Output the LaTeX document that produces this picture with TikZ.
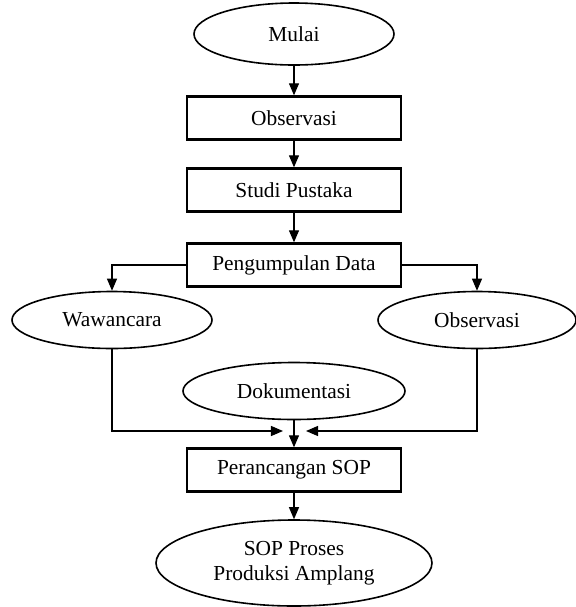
\documentclass[tikz,border=0pt]{standalone}
\usepackage{fontspec}
\setmainfont{Liberation Serif}
\usetikzlibrary{shapes.geometric,arrows.meta}
\tikzstyle{node:terminal}=[ellipse,draw,line width=0.8pt,inner sep=0pt]
\tikzstyle{node:source}=[ellipse,draw,line width=0.8pt,inner sep=0pt,minimum height=28.5pt]
\tikzstyle{node:process}=[rectangle,draw,line width=1.2pt,inner sep=0pt,minimum width=107pt,minimum height=21.5pt]
\tikzstyle{draw:flow}=[-{Triangle[length=6pt,width=5pt]},line width=0.6pt]

\begin{document}
\begin{tikzpicture}[x=0.5pt,y=-0.5pt,font=\fontsize{10.7}{12.6}\selectfont]
        \useasboundingbox (0,0) rectangle (575,607);

        % Main steps
        \node[node:terminal,minimum width=100pt,minimum height=31pt] (Mulai) at (294,34) {Mulai};
        \node[node:process] (Observasi) at (294,118) {Observasi};
        \node[node:process] (Studi) at (294,190) {Studi Pustaka};
        \node[node:process] (Pengumpulan) at (294,265) {Pengumpulan Data};

        % Data sources
        \node[node:source,minimum width=100pt] (Wawancara) at (112,320) {Wawancara};
        \node[node:source,minimum width=99pt] (ObservasiData) at (477,320) {Observasi};
        \node[node:source,minimum width=111pt] (Dokumentasi) at (294,391) {Dokumentasi};

        % Design and result
        \node[node:process] (Perancangan) at (294,470) {Perancangan SOP};
        \node[node:terminal,minimum width=138pt,minimum height=43pt,align=center] (SOP) at (294,563) {SOP Proses\\Produksi Amplang};

        % Join points
        \coordinate (JoinL) at (283,431);
        \coordinate (JoinR) at (306,431);

        % draw:flow along the main steps
        \draw[draw:flow] (Mulai) -- (Observasi);
        \draw[draw:flow] (Observasi) -- (Studi);
        \draw[draw:flow] (Studi) -- (Pengumpulan);

        % draw:flow to the data sources
        \draw[draw:flow] (Pengumpulan.west) -| (Wawancara.north);
        \draw[draw:flow] (Pengumpulan.east) -| (ObservasiData.north);

        % draw:flow into the design step
        \draw[draw:flow] (Wawancara.south) |- (JoinL);
        \draw[draw:flow] (ObservasiData.south) |- (JoinR);
        \draw[draw:flow] (Dokumentasi) -- (Perancangan);
        \draw[draw:flow] (Perancangan) -- (SOP);
    \end{tikzpicture}
\end{document}
